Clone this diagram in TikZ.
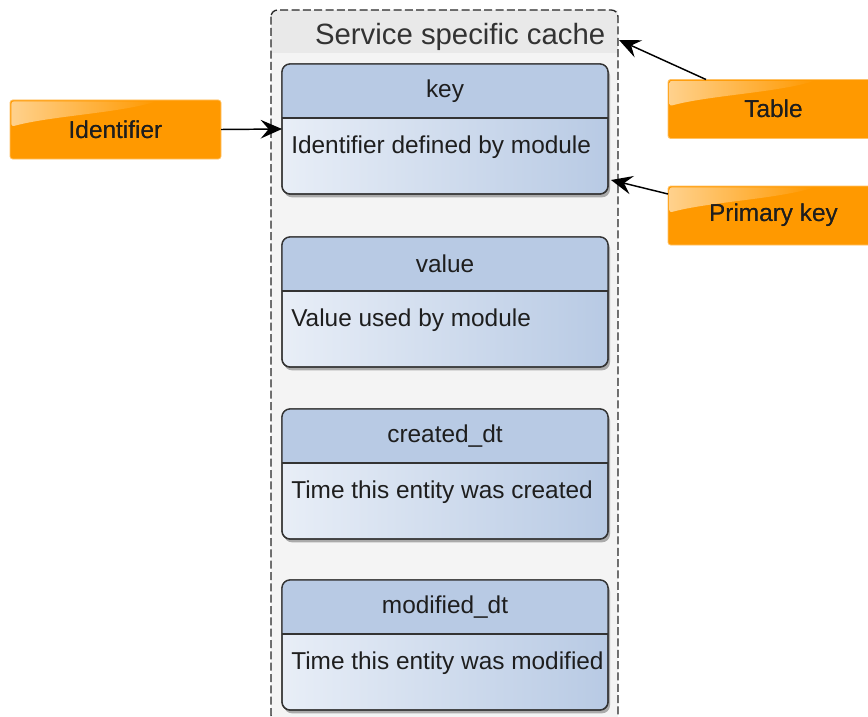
\documentclass[tikz,border=0pt]{standalone}
\usepackage{fontspec}
\setmainfont{Liberation Sans}
\usetikzlibrary{arrows.meta,shadows}
\definecolor{hdr}{HTML}{B8CAE4}
\definecolor{bodyL}{HTML}{E8EEF7}
\definecolor{bodyR}{HTML}{B8CAE4}
\definecolor{org}{HTML}{FF9900}
\definecolor{txt}{HTML}{1E1E1E}
\definecolor{contfill}{HTML}{F4F4F4}
\definecolor{titlefill}{HTML}{E9E9E9}
\newcommand\mktable[4]{%
  \node[tblbox, anchor=north west] (#1) at (282,#2) {};
  \begin{scope}
    \clip[rounded corners=6pt] (#1.north west) rectangle (#1.south east);
    \fill[hdr] (#1.north west) rectangle ([yshift=-40.5pt]#1.north east);
  \end{scope}
  \draw[tblline] ([yshift=-40.5pt]#1.north west) -- ([yshift=-40.5pt]#1.north east);
  \draw[tblline, rounded corners=6pt] (#1.north west) rectangle (#1.south east);
  \node (#1-h) at ([yshift=-20.25pt]#1.north) {#3};
  \node[anchor=west, inner sep=0pt] (#1-b) at ([shift={(6.75pt,-62.25pt)}]#1.north west) {#4};
}
\newcommand\mklabel[4]{%
  \node[lbl] (#1) at (#2,#3) {#4};
  \shade[left color=org!45!white, right color=org, rounded corners=2pt]
    ([shift={(1pt,-1pt)}]#1.north west) -- ([shift={(110pt,-1pt)}]#1.north west)
    .. controls ([shift={(80pt,-10pt)}]#1.north west) and ([shift={(30pt,-12pt)}]#1.north west) ..
    ([shift={(1pt,-20pt)}]#1.north west) -- cycle;
  \node at (#1.center) {#4};
}
\begin{document}
\begin{tikzpicture}[x=0.75pt,y=-0.75pt,
  every node/.style={text=txt, font=\fontsize{18.3}{21}\selectfont},
  tblbox/.style={rectangle, draw=black!80, line width=1pt, rounded corners=6pt,
    minimum width=244.5pt, minimum height=97.5pt, inner sep=0pt, outer sep=0pt,
    left color=bodyL, right color=bodyR,
    drop shadow={shadow xshift=1.5pt, shadow yshift=-2.5pt, opacity=0.3, fill=black}},
  tblline/.style={line width=1pt, draw=black!80},
  lbl/.style={rectangle, fill=org, draw=org!60!white, line width=0.6pt, rounded corners=2pt,
    minimum width=158.25pt, minimum height=44.25pt, inner sep=0pt, outer sep=0pt},
  arr/.style={line width=1.1pt, draw=black, -{Stealth[length=16pt,width=14pt,inset=6pt]}},
  cont/.style={rectangle, fill=contfill, inner sep=0pt, outer sep=0pt,
    minimum width=260.25pt, minimum height=534pt},
]
\useasboundingbox (0,0) rectangle (868,717);
% container
\node[cont, anchor=north west] (cache) at (271,10) {};
\begin{scope}
  \clip[rounded corners=5pt] (cache.north west) rectangle (cache.south east);
  \fill[titlefill] (cache.north west) rectangle ([yshift=-32.25pt]cache.north east);
\end{scope}
\draw[line width=1pt, black!85, dash pattern=on 6pt off 2.5pt, rounded corners=5pt]
  (cache.north west) rectangle (cache.south east);
\node[anchor=base east, text=black!80, font=\fontsize{22}{26}\selectfont] (title) at (610,45) {Service specific cache};
% tables
\mktable{key}{64}{key}{Identifier defined by module}
\mktable{value}{237}{value}{Value used by module}
\mktable{created}{409}{created\_dt}{Time this entity was created}
\mktable{modified}{580}{modified\_dt}{Time this entity was modified}
% labels
\mklabel{ident}{115.5}{129.5}{Identifier}
\mklabel{tbl}{773.5}{109}{Table}
\mklabel{pk}{773.5}{215.5}{Primary key}
% arrows
\draw[arr] (ident.east) -- (key.west);
\draw[arr] ([xshift=28.5pt]tbl.north west) -- ([shift={(0.75pt,-22.5pt)}]cache.north east);
\draw[arr] ([yshift=-6pt]pk.north west) -- ([shift={(2.25pt,10.5pt)}]key.south east);
\end{tikzpicture}
\end{document}
